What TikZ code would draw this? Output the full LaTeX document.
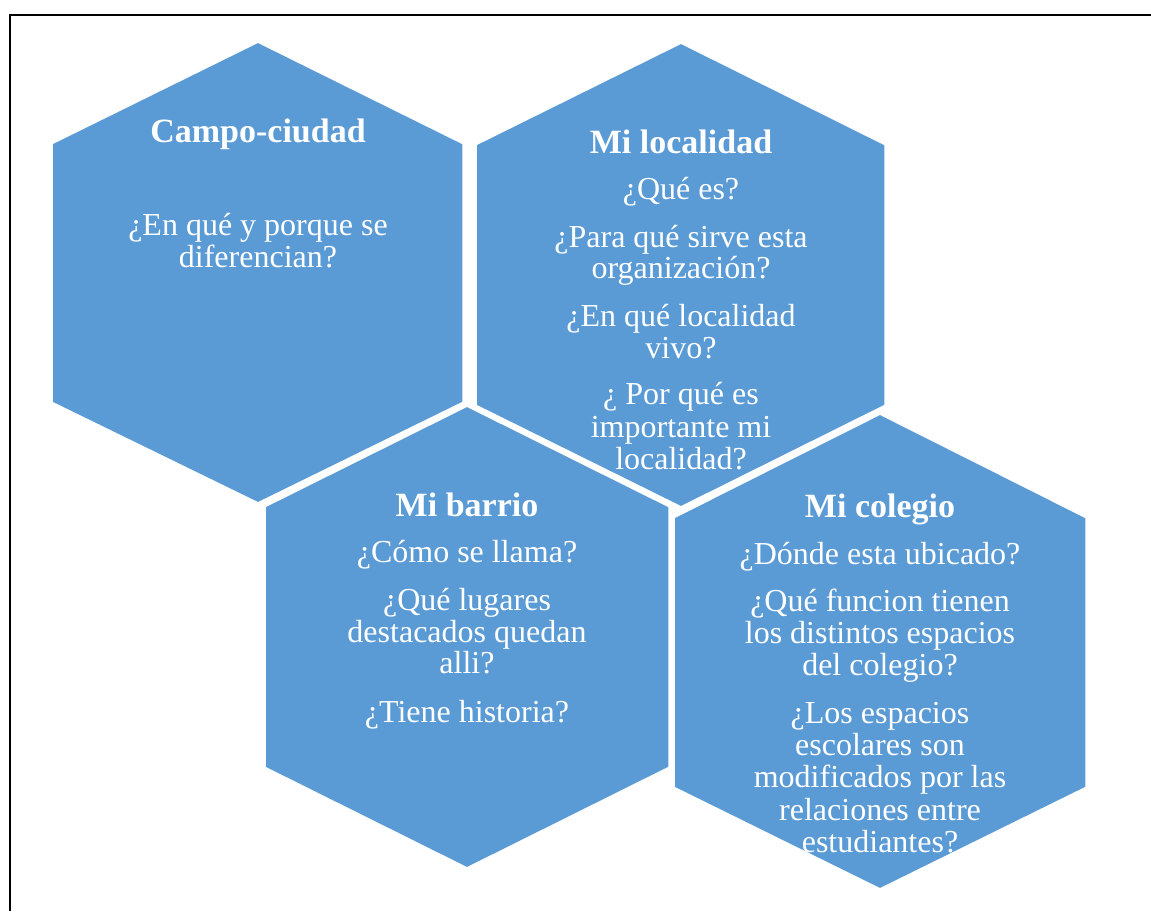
\documentclass[tikz,border=0pt]{standalone}
\usepackage{fontspec}
\setmainfont{Liberation Serif}
\definecolor{hexblue}{HTML}{5B9BD5}
\begin{document}
\begin{tikzpicture}[x=1pt,y=-1pt,
  hexs/.style={fill=hexblue,draw=white,line width=3.5pt,line join=miter},
  ttl/.style={anchor=base,text=white,font=\bfseries\fontsize{34}{34}\selectfont,inner sep=0pt},
  bdy/.style={anchor=base,text=white,font=\fontsize{32}{32}\selectfont,inner sep=0pt},
  frame/.style={draw=black,line width=2pt}]
\useasboundingbox (0,0) rectangle (1151,911);
\draw[frame] (10,911) -- (10,15) -- (1151,15);
% hexagons
\draw[hexs] (258,41) -- (464,143) -- (464,403) -- (258,504) -- (51,403) -- (51,143) -- cycle;
\draw[hexs] (681,42) -- (886,144) -- (886,406) -- (681,508) -- (475,406) -- (475,144) -- cycle;
\draw[hexs] (467,405) -- (670,506) -- (670,768) -- (467,869) -- (264,768) -- (264,506) -- cycle;
\draw[hexs] (880,413) -- (1087,517) -- (1087,788) -- (880,890) -- (673,788) -- (673,517) -- cycle;
% Campo-ciudad
\node[ttl] (a0) at (258,142) {Campo-ciudad};
\node[bdy] (a1) at (258,235) {¿En qué y porque se};
\node[bdy] (a2) at (258,267) {diferencian?};
% Mi localidad
\node[ttl] (b0) at (681,153) {Mi localidad};
\node[bdy] (b1) at (681,199) {¿Qué es?};
\node[bdy] (b2) at (681,247) {¿Para qué sirve esta};
\node[bdy] (b3) at (681,278) {organización?};
\node[bdy] (b4) at (681,326) {¿En qué localidad};
\node[bdy] (b5) at (681,358) {vivo?};
\node[bdy] (b6) at (681,404) {¿ Por qué es};
\node[bdy] (b7) at (681,437) {importante mi};
\node[bdy] (b8) at (681,469) {localidad?};
% Mi barrio
\node[ttl] (c0) at (467,516) {Mi barrio};
\node[bdy] (c1) at (467,562) {¿Cómo se llama?};
\node[bdy] (c2) at (467,610) {¿Qué lugares};
\node[bdy] (c3) at (467,642) {destacados quedan};
\node[bdy] (c4) at (467,673) {alli?};
\node[bdy] (c5) at (467,722) {¿Tiene historia?};
% Mi colegio
\node[ttl] (d0) at (880,517) {Mi colegio};
\node[bdy] (d1) at (880,564) {¿Dónde esta ubicado?};
\node[bdy] (d2) at (880,611) {¿Qué funcion tienen};
\node[bdy] (d3) at (880,643) {los distintos espacios};
\node[bdy] (d4) at (880,675) {del colegio?};
\node[bdy] (d5) at (880,723) {¿Los espacios};
\node[bdy] (d6) at (880,755) {escolares son};
\node[bdy] (d7) at (880,787) {modificados por las};
\node[bdy] (d8) at (880,820) {relaciones entre};
\node[bdy] (d9) at (880,852) {estudiantes?};
\end{tikzpicture}
\end{document}
